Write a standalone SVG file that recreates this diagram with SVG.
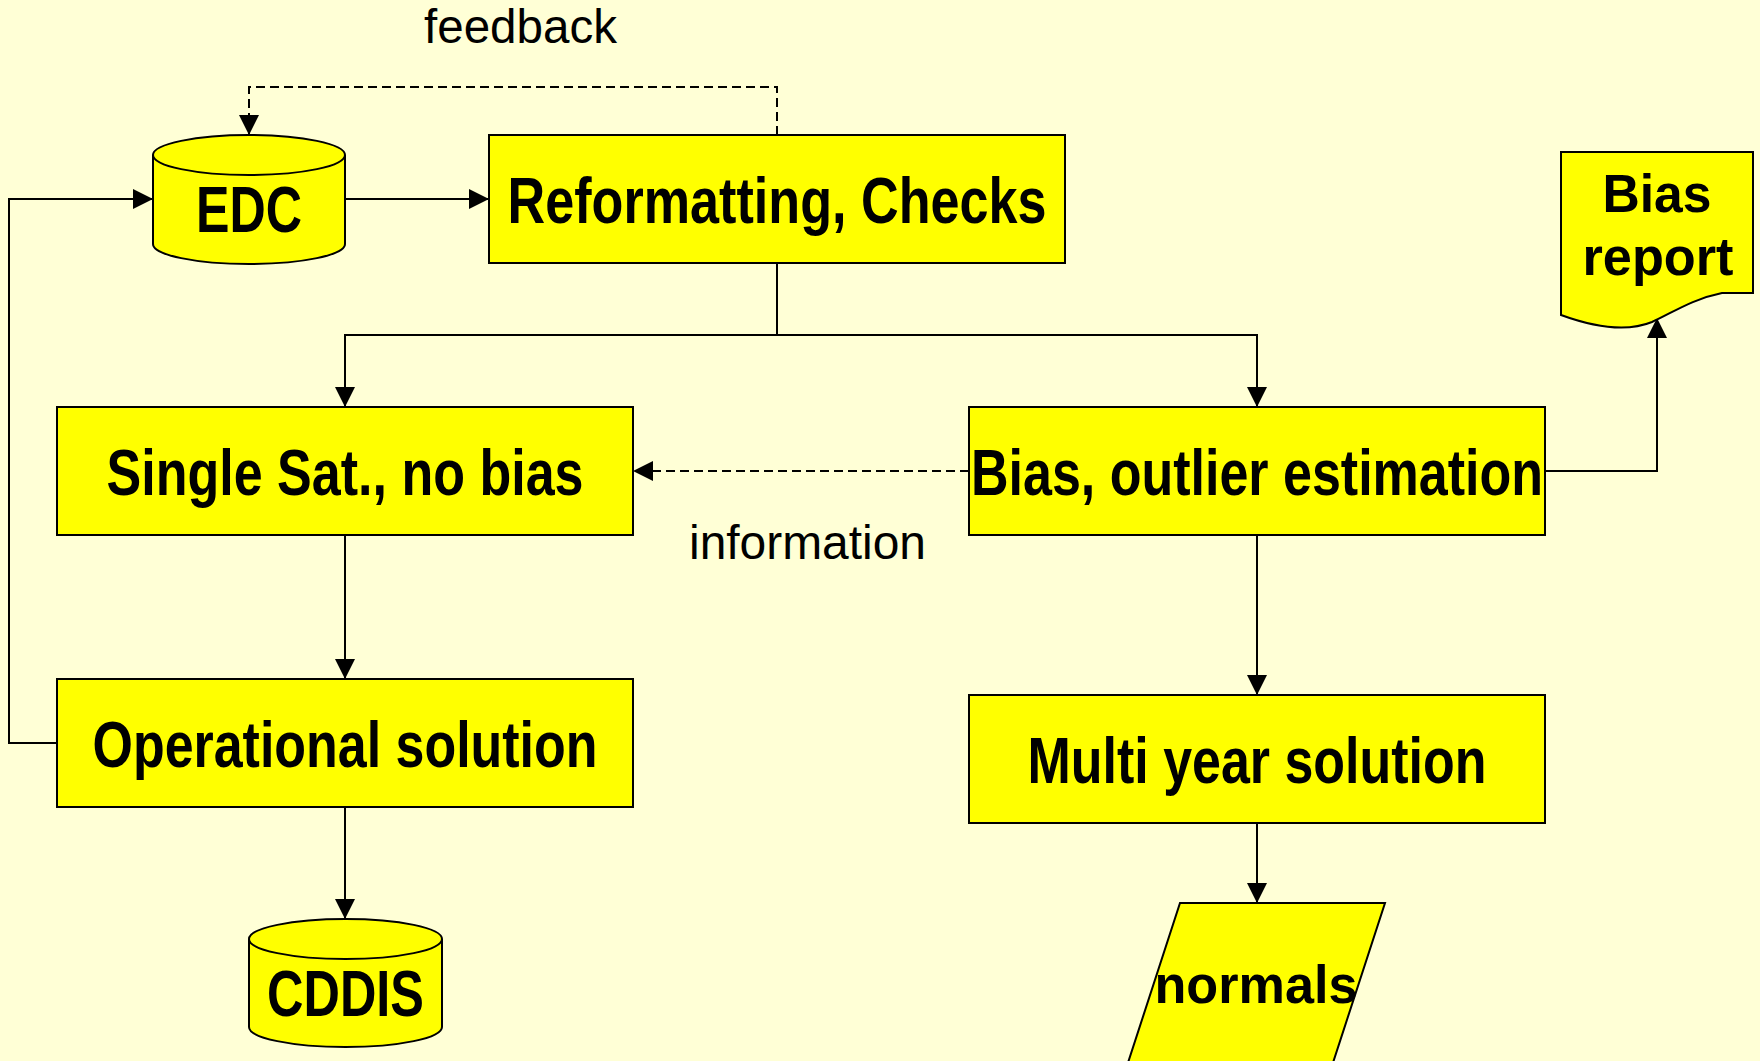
<svg xmlns="http://www.w3.org/2000/svg" width="1760" height="1061" viewBox="0 0 1760 1061">
<style>
.box{fill:#FFFF00;stroke:#000;stroke-width:2}
.lbl{font-family:"Liberation Sans",Arial,sans-serif;font-weight:bold;font-size:64px;fill:#000;text-anchor:middle}
.sm{font-family:"Liberation Sans",Arial,sans-serif;font-weight:bold;font-size:53px;fill:#000;text-anchor:middle}
.note{font-family:"Liberation Sans",Arial,sans-serif;font-size:48px;fill:#000}
.ln{fill:none;stroke:#000;stroke-width:2}
.dash{stroke-dasharray:9 5}
</style>
<defs>
<marker id="ah" viewBox="0 0 20 20" refX="20" refY="10" markerWidth="20" markerHeight="20" markerUnits="userSpaceOnUse" orient="auto">
<path d="M0,0 L20,10 L0,20 Z" fill="#000"/>
</marker>
</defs>
<rect width="1760" height="1061" fill="#FFFFD6"/>

<g id="connectors">
<path class="ln dash" d="M777,135 V87 H249 V135" marker-end="url(#ah)"/>
<path class="ln" d="M345,199 H489" marker-end="url(#ah)"/>
<path class="ln" d="M57,743 H9 V199 H153" marker-end="url(#ah)"/>
<path class="ln" d="M777,263 V335 H345 V407" marker-end="url(#ah)"/>
<path class="ln" d="M777,335 H1257 V407" marker-end="url(#ah)"/>
<path class="ln dash" d="M969,471 H633" marker-end="url(#ah)"/>
<path class="ln" d="M1545,471 H1657 V318" marker-end="url(#ah)"/>
<path class="ln" d="M345,535 V679" marker-end="url(#ah)"/>
<path class="ln" d="M345,807 V919" marker-end="url(#ah)"/>
<path class="ln" d="M1257,535 V695" marker-end="url(#ah)"/>
<path class="ln" d="M1257,823 V903" marker-end="url(#ah)"/>
<text class="note" x="424" y="43" textLength="193" lengthAdjust="spacingAndGlyphs">feedback</text>
<text class="note" x="689" y="559" textLength="237" lengthAdjust="spacingAndGlyphs">information</text>
</g>

<g id="edc">
<path class="box" d="M153,155 A96,20 0 0 1 345,155 V244 A96,20 0 0 1 153,244 Z"/>
<path class="ln" d="M153,155 A96,20 0 0 0 345,155"/>
<text class="lbl" x="249" y="232" textLength="106" lengthAdjust="spacingAndGlyphs">EDC</text>
</g>

<g id="reformatting">
<rect class="box" x="489" y="135" width="576" height="128"/>
<text class="lbl" x="777" y="223" textLength="539" lengthAdjust="spacingAndGlyphs">Reformatting, Checks</text>
</g>

<g id="bias-report">
<path class="box" d="M1561,152 H1753 V293 H1722 C1692,299 1672,313 1652,322 C1630,331 1602,330 1561,315 Z"/>
<text class="sm" x="1657" y="212" textLength="109" lengthAdjust="spacingAndGlyphs">Bias</text>
<text class="sm" x="1658" y="275" textLength="151" lengthAdjust="spacingAndGlyphs">report</text>
</g>

<g id="single-sat">
<rect class="box" x="57" y="407" width="576" height="128"/>
<text class="lbl" x="345" y="495" textLength="477" lengthAdjust="spacingAndGlyphs">Single Sat., no bias</text>
</g>

<g id="bias-outlier">
<rect class="box" x="969" y="407" width="576" height="128"/>
<text class="lbl" x="1257" y="495" textLength="572" lengthAdjust="spacingAndGlyphs">Bias, outlier estimation</text>
</g>

<g id="operational">
<rect class="box" x="57" y="679" width="576" height="128"/>
<text class="lbl" x="345" y="767" textLength="505" lengthAdjust="spacingAndGlyphs">Operational solution</text>
</g>

<g id="multi-year">
<rect class="box" x="969" y="695" width="576" height="128"/>
<text class="lbl" x="1257" y="783" textLength="459" lengthAdjust="spacingAndGlyphs">Multi year solution</text>
</g>

<g id="cddis">
<path class="box" d="M249,939 A96.5,20 0 0 1 442,939 V1027 A96.5,20 0 0 1 249,1027 Z"/>
<path class="ln" d="M249,939 A96.5,20 0 0 0 442,939"/>
<text class="lbl" x="345.5" y="1016" textLength="157" lengthAdjust="spacingAndGlyphs">CDDIS</text>
</g>

<g id="normals">
<polygon class="box" points="1180,903 1385,903 1329,1075 1124,1075"/>
<text class="sm" x="1256" y="1003" textLength="203" lengthAdjust="spacingAndGlyphs">normals</text>
</g>
</svg>
